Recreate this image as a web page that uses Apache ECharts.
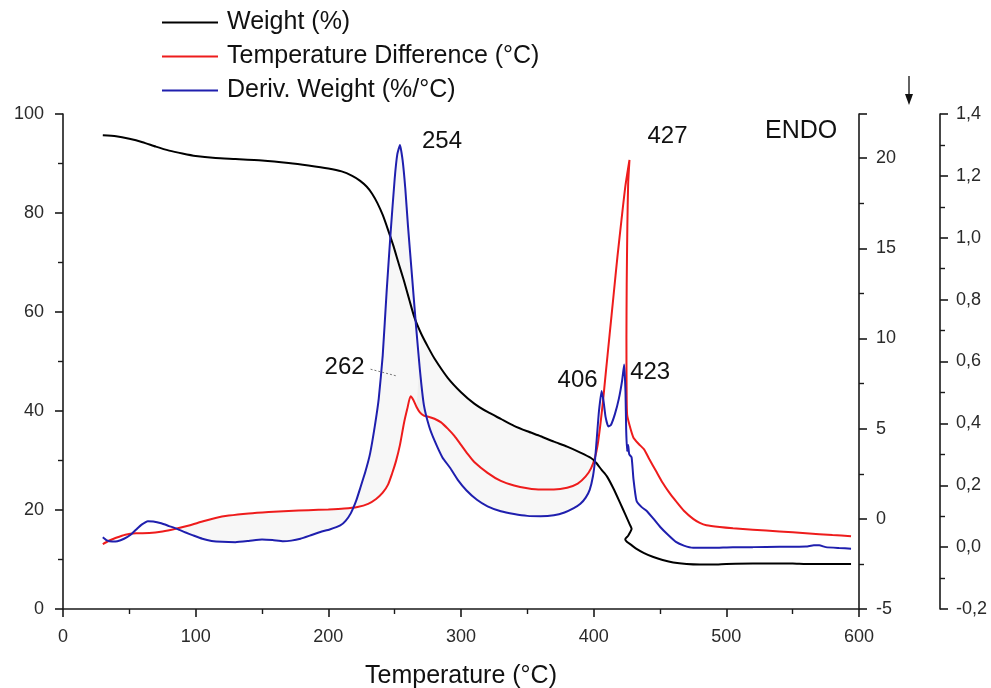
<!DOCTYPE html>
<html>
<head>
<meta charset="utf-8">
<title>TGA / DTA / DTG</title>
<script src="https://cdn.jsdelivr.net/npm/echarts@6/dist/echarts.min.js"></script>
<style>
  html, body { margin: 0; padding: 0; background: #fff; }
  #chart { width: 991px; height: 688px; }
</style>
</head>
<body>
<div id="chart"></div>
<script>
// Thermogravimetric weight (%) against temperature (°C)
const weightCurve = [
  [30, 95.7], [40, 95.5], [50, 95.0], [60, 94.3], [70, 93.4], [80, 92.6], [90, 92.0],
  [100, 91.5], [115, 91.1], [130, 90.9], [150, 90.6], [170, 90.1], [185, 89.6],
  [200, 89.0], [210, 88.4], [218, 87.5], [224, 86.5], [229, 85.3], [233, 83.9],
  [237, 82.0], [241, 79.6], [245, 76.6], [249, 73.4], [253, 69.8], [257, 66.3],
  [261, 62.5], [265, 58.8], [270, 55.6], [275, 53.0], [280, 50.6], [290, 46.7],
  [300, 43.8], [310, 41.5], [320, 39.8], [330, 38.4], [340, 37.0], [350, 35.9],
  [360, 34.9], [370, 33.8], [380, 32.8], [390, 31.6], [398, 30.5], [402, 29.5],
  [406, 28.1], [410, 26.8], [415, 24.3], [420, 21.4], [424, 19.0], [427, 17.2],
  [428.6, 16.2], [426, 14.8], [423.8, 14.1], [425, 13.6], [428, 13.0], [432, 12.2],
  [438, 11.3], [445, 10.5], [452, 9.9], [460, 9.4], [470, 9.1], [480, 9.0],
  [490, 9.0], [500, 9.1], [520, 9.2], [550, 9.2], [560, 9.1], [594, 9.1]
];

// Temperature difference (°C), DTA
const dtaCurve = [
  [30, -1.4], [35, -1.2], [40, -1.05], [47, -0.88], [55, -0.8], [65, -0.79], [75, -0.7],
  [85, -0.55], [95, -0.37], [105, -0.15], [115, 0.05], [125, 0.18], [140, 0.3],
  [155, 0.38], [170, 0.44], [185, 0.48], [200, 0.52], [212, 0.57], [222, 0.66],
  [230, 0.83], [236, 1.1], [241, 1.45], [245, 1.9], [248, 2.5], [251, 3.2], [254, 4.1],
  [257, 5.3], [259.5, 6.1], [262, 6.8], [264, 6.6], [266.5, 6.2], [269, 5.9],
  [272, 5.72], [276, 5.65], [280, 5.55], [285, 5.35], [290, 5.0], [295, 4.6],
  [300, 4.1], [305, 3.6], [310, 3.15], [320, 2.55], [330, 2.1], [340, 1.85],
  [350, 1.7], [360, 1.62], [370, 1.62], [380, 1.72], [388, 1.95], [394, 2.35],
  [398, 2.8], [401, 3.4], [403, 4.1], [405, 5.2], [407, 6.5], [409, 8.0], [412, 10.2],
  [415, 12.4], [418, 14.6], [421, 16.6], [424, 18.5], [427, 19.9], [426, 18.6],
  [425.4, 16.3], [424.9, 13.0], [424.7, 10.0], [424.8, 7.5], [425.2, 5.8], [427, 5.2],
  [430, 4.5], [434, 4.15], [438, 3.85], [442, 3.3], [447, 2.65], [452, 2.0],
  [457, 1.45], [462, 0.98], [468, 0.45], [475, 0.0], [480, -0.22], [485, -0.35],
  [495, -0.45], [505, -0.52], [520, -0.6], [540, -0.7], [560, -0.8], [580, -0.9],
  [594, -0.96]
];

// Derivative weight (%/°C), DTG
const dtgCurve = [
  [30, 0.032], [33, 0.022], [37, 0.018], [41, 0.019], [46, 0.027], [51, 0.04],
  [55, 0.056], [59, 0.072], [64, 0.084], [68, 0.083], [74, 0.077], [80, 0.068],
  [86, 0.059], [92, 0.048], [98, 0.038], [105, 0.027], [112, 0.02], [120, 0.017],
  [130, 0.016], [140, 0.02], [150, 0.025], [158, 0.023], [166, 0.019], [172, 0.021],
  [179, 0.027], [186, 0.037], [194, 0.049], [201, 0.057], [209, 0.07], [213, 0.085],
  [217, 0.11], [221, 0.15], [224, 0.19], [228, 0.245], [231.5, 0.303], [235, 0.39],
  [238, 0.48], [241, 0.62], [244, 0.83], [247, 1.02], [250, 1.19], [252, 1.27],
  [254, 1.3], [256, 1.25], [258, 1.16], [260, 1.04], [263, 0.88], [266, 0.72],
  [269, 0.574], [272, 0.46], [276, 0.39], [280, 0.345], [286, 0.29], [292, 0.255],
  [298, 0.215], [304, 0.184], [312, 0.153], [320, 0.132], [330, 0.116], [340, 0.107],
  [350, 0.101], [360, 0.1], [370, 0.103], [378, 0.112], [385, 0.126], [390, 0.14],
  [394, 0.16], [397, 0.185], [399.5, 0.23], [401, 0.28], [402.5, 0.36], [404, 0.44],
  [406, 0.505], [407.5, 0.47], [409, 0.42], [411, 0.39], [413, 0.395], [416, 0.43],
  [419, 0.48], [421.5, 0.54], [423, 0.59], [424, 0.5], [424.5, 0.38], [425.2, 0.31],
  [426, 0.33], [426.8, 0.3], [428.6, 0.29], [430, 0.22], [432.3, 0.15], [436, 0.13],
  [440, 0.117], [445, 0.092], [450, 0.066], [456, 0.04], [462, 0.017], [468, 0.005],
  [475, -0.002], [490, -0.002], [505, 0.0], [520, 0.0], [540, 0.001], [560, 0.002],
  [566, 0.006], [570, 0.006], [575, 0.0], [585, -0.003], [594, -0.005]
];

// Peak temperatures annotated on the curves
const dtgPeaks = [254, 406, 423];
const dtaPeaks = [262, 427];

const seriesNames = ['Weight (%)', 'Temperature Difference (°C)', 'Deriv. Weight (%/°C)'];
const seriesColors = ['#000000', '#ee1c1c', '#1f1fae'];

const FONT = "'Liberation Sans', Arial, sans-serif";
const AXIS_COLOR = '#1a1a1a';

function valueAt(curve, t) {
  const p = curve.find(d => d[0] === t);
  return p ? p[1] : null;
}

// Invisible marker at a peak, carrying its temperature as a text label
function peakPoint(curve, t, dx, dy) {
  return {
    name: 'peak ' + t,
    coord: [t, valueAt(curve, t)],
    value: t,
    symbol: 'circle',
    symbolSize: 1,
    itemStyle: { color: 'rgba(0,0,0,0)', borderWidth: 0 },
    label: {
      show: true,
      position: 'inside',
      formatter: String(t),
      offset: [dx, dy],
      fontSize: 24,
      fontFamily: FONT,
      color: '#111'
    }
  };
}

const commonAxisLine = { show: true, onZero: false, lineStyle: { color: AXIS_COLOR, width: 1.6 } };
const commonTick = { show: true, length: 8, lineStyle: { color: AXIS_COLOR, width: 1.6 } };
const commonMinor = { show: true, splitNumber: 2, length: 5, lineStyle: { color: AXIS_COLOR, width: 1.4 } };
const labelStyle = { fontSize: 18, fontFamily: FONT, color: '#2a2a2a' };

const chart = echarts.init(document.getElementById('chart'), null, { renderer: 'canvas' });

const option = {
  animation: false,
  backgroundColor: '#ffffff',
  textStyle: { fontFamily: FONT },
  grid: { left: 63, right: 132, top: 114, bottom: 79, containLabel: false, outerBoundsMode: 'none' },
  legend: {
    orient: 'vertical',
    left: 162,
    top: 10,
    padding: 0,
    itemWidth: 56,
    itemHeight: 2,
    itemGap: 9,
    icon: 'rect',
    data: seriesNames,
    textStyle: { fontSize: 25, fontFamily: FONT, color: '#111', padding: [0, 0, 0, 4] }
  },
  xAxis: {
    type: 'value',
    min: 0,
    max: 600,
    interval: 100,
    name: 'Temperature (°C)',
    nameLocation: 'middle',
    nameGap: 55,
    nameTextStyle: { fontSize: 25, fontFamily: FONT, color: '#111' },
    axisLine: commonAxisLine,
    axisTick: commonTick,
    minorTick: commonMinor,
    splitLine: { show: false },
    axisLabel: Object.assign({ margin: 19 }, labelStyle)
  },
  yAxis: [
    {
      type: 'value',
      position: 'left',
      min: 0,
      max: 100,
      interval: 20,
      axisLine: commonAxisLine,
      axisTick: commonTick,
      minorTick: commonMinor,
      splitLine: { show: false },
      axisLabel: Object.assign({ margin: 19 }, labelStyle)
    },
    {
      type: 'value',
      position: 'right',
      offset: 0,
      min: -5,
      max: 22.45,
      interval: 5,
      axisLine: commonAxisLine,
      axisTick: commonTick,
      minorTick: commonMinor,
      splitLine: { show: false },
      axisLabel: Object.assign({ margin: 17, showMaxLabel: false }, labelStyle)
    },
    {
      type: 'value',
      position: 'right',
      offset: 81,
      min: -0.2,
      max: 1.4,
      interval: 0.2,
      axisLine: commonAxisLine,
      axisTick: commonTick,
      minorTick: commonMinor,
      splitLine: { show: false },
      axisLabel: Object.assign({
        margin: 16,
        formatter: v => v.toFixed(1).replace('.', ',')
      }, labelStyle)
    }
  ],
  series: [
    {
      name: seriesNames[0],
      type: 'line',
      yAxisIndex: 0,
      data: weightCurve,
      showSymbol: false,
      symbol: 'none',
      smooth: 0.2,
      color: seriesColors[0],
      lineStyle: { width: 2, color: seriesColors[0] },
      z: 4
    },
    {
      name: seriesNames[1],
      type: 'line',
      yAxisIndex: 1,
      data: dtaCurve,
      showSymbol: false,
      symbol: 'none',
      smooth: 0.2,
      color: seriesColors[1],
      lineStyle: { width: 2, color: seriesColors[1] },
      markPoint: {
        silent: true,
        animation: false,
        data: [
          peakPoint(dtaCurve, dtaPeaks[0], -66, -29),
          peakPoint(dtaCurve, dtaPeaks[1], 38, -24)
        ]
      },
      z: 3
    },
    {
      name: seriesNames[2],
      type: 'line',
      yAxisIndex: 2,
      data: dtgCurve,
      showSymbol: false,
      symbol: 'none',
      smooth: 0.15,
      color: seriesColors[2],
      lineStyle: { width: 2, color: seriesColors[2] },
      markPoint: {
        silent: true,
        animation: false,
        data: [
          peakPoint(dtgCurve, dtgPeaks[0], 42, -4),
          peakPoint(dtgCurve, dtgPeaks[1], -24, -11),
          peakPoint(dtgCurve, dtgPeaks[2], 26, 8)
        ]
      },
      z: 5
    }
  ]
};

chart.setOption(option);

// Light shading between the curves, plus the DTA leader line and the ENDO arrow
function toPx(axisIdx, pt) {
  return chart.convertToPixel({ xAxisIndex: 0, yAxisIndex: axisIdx }, pt);
}
function segment(curve, axisIdx, t0, t1) {
  return curve.filter(d => d[0] >= t0 && d[0] <= t1).map(d => toPx(axisIdx, d));
}

const fillA = segment(dtgCurve, 2, 82, 401).concat(segment(dtaCurve, 1, 82, 401).reverse());
const fillB = segment(dtaCurve, 1, 266, 401).concat(segment(weightCurve, 0, 266, 401).reverse());
const peak262 = toPx(1, [dtaPeaks[0], valueAt(dtaCurve, dtaPeaks[0])]);

chart.setOption({
  graphic: [
    {
      type: 'polygon', z: 1, silent: true,
      shape: { points: fillA },
      style: { fill: 'rgba(0,0,0,0.03)', stroke: null }
    },
    {
      type: 'polygon', z: 1, silent: true,
      shape: { points: fillB },
      style: { fill: 'rgba(0,0,0,0.03)', stroke: null }
    },
    {
      type: 'line', z: 6, silent: true,
      shape: { x1: peak262[0] - 40, y1: peak262[1] - 27, x2: peak262[0] - 13, y2: peak262[1] - 20 },
      style: { stroke: '#777', lineWidth: 1, lineDash: [2, 2] }
    },
    {
      type: 'text', z: 6, silent: true,
      left: 765, top: 119,
      style: { text: 'ENDO', fontSize: 25, fontFamily: FONT, fill: '#111' }
    },
    {
      type: 'line', z: 6, silent: true,
      shape: { x1: 909, y1: 76, x2: 909, y2: 96 },
      style: { stroke: '#222', lineWidth: 1.4 }
    },
    {
      type: 'polygon', z: 6, silent: true,
      shape: { points: [[905, 94], [913, 94], [909, 105]] },
      style: { fill: '#111' }
    }
  ]
});
</script>
</body>
</html>
